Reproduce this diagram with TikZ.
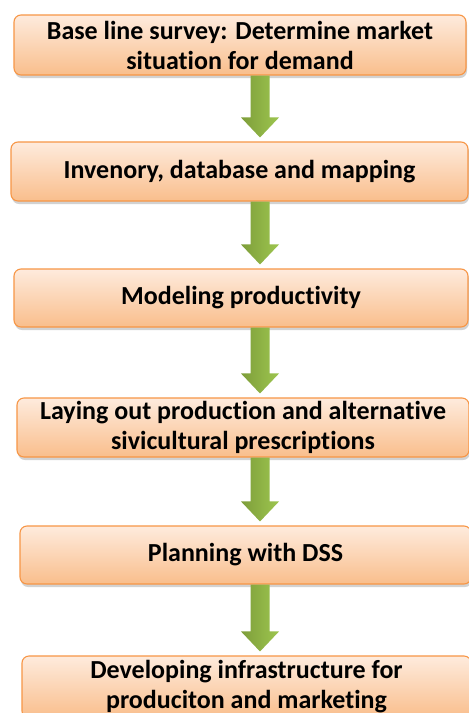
\documentclass[tikz,border=0pt]{standalone}
\usepackage{fontspec}
\setmainfont{Carlito}[Ligatures=NoCommon]
\usetikzlibrary{shadows,calc}
\definecolor{boxtop}{HTML}{FEEBDD}
\definecolor{boxbot}{HTML}{F9BE8C}
\definecolor{boxedge}{HTML}{F79646}
\definecolor{arrL}{HTML}{7E9E3A}
\definecolor{arrR}{HTML}{9DC54F}
\tikzset{
  stepbox/.style={draw=boxedge, line width=1.1pt, rounded corners=7pt,
    top color=boxtop, bottom color=boxbot, align=center,
    font=\bfseries\fontsize{26}{30}\selectfont, inner sep=0pt,
    drop shadow={opacity=0.35, shadow xshift=1pt, shadow yshift=-3pt}},
  blockarrow/.style={left color=arrL, right color=arrR, draw=none}
}
\newcommand{\garrow}[2]{%
  \path[blockarrow] let \p1=(#1.south), \p2=(#2.north), \p3=(ax) in
    (\x3-9.5pt,\y1) -- (\x3+9.5pt,\y1) -- (\x3+9.5pt,\y2+24pt) -- (\x3+19pt,\y2+24pt)
    -- (\x3,\y2+4pt) -- (\x3-19pt,\y2+24pt) -- (\x3-9.5pt,\y2+24pt) -- cycle;}
\begin{document}
\begin{tikzpicture}[x=1pt,y=-1pt]
\useasboundingbox[fill=white] (0,0) rectangle (469,713);
\coordinate (ax) at (260,0);
\node[stepbox, minimum width=452pt, minimum height=60pt] (b1) at (240,45)
  {Base line survey: Determine market\\situation for demand};
\node[stepbox, minimum width=457pt, minimum height=59pt] (b2) at (239.5,171.5)
  {Invenory, database and mapping};
\node[stepbox, minimum width=454pt, minimum height=58pt] (b3) at (241,298)
  {Modeling productivity};
\node[stepbox, minimum width=452pt, minimum height=59pt] (b4) at (243,427.5)
  {Laying out production and alternative\\sivicultural prescriptions};
\node[stepbox, minimum width=451pt, minimum height=58pt] (b5) at (245.5,555)
  {Planning with DSS};
\node[stepbox, minimum width=449pt, minimum height=62pt] (b6) at (246.5,687)
  {Developing infrastructure for\\produciton and marketing};
\garrow{b1}{b2}
\garrow{b2}{b3}
\garrow{b3}{b4}
\garrow{b4}{b5}
\garrow{b5}{b6}
\end{tikzpicture}
\end{document}
